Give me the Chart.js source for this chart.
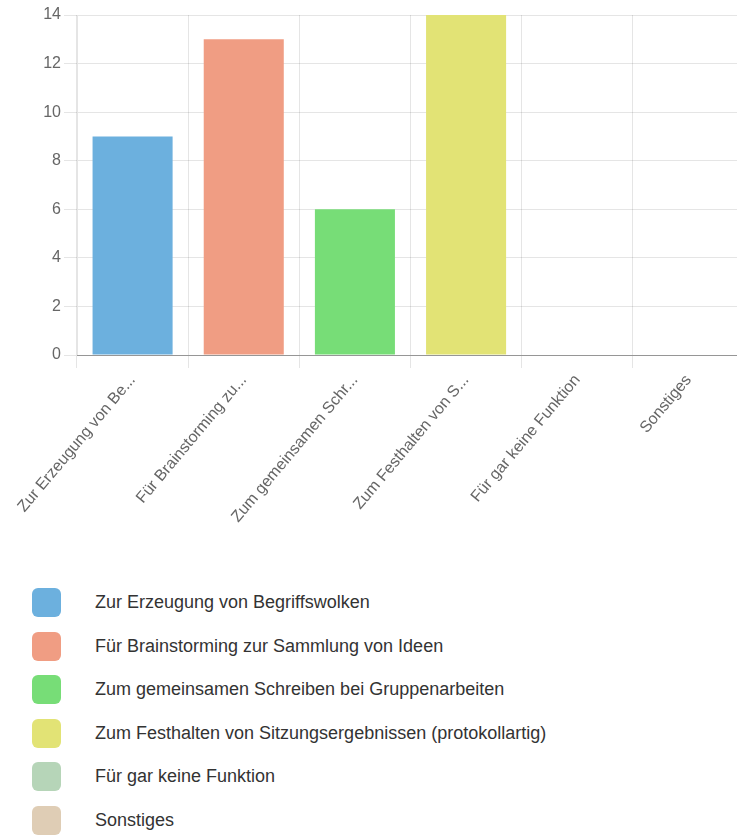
<!DOCTYPE html>
<html>
<head>
<meta charset="utf-8">
<script src="https://cdn.jsdelivr.net/npm/chart.js@4.4.0/dist/chart.umd.min.js"></script>
<style>
    body { margin: 0; background: #fff; overflow: hidden; width: 737px; height: 836px; position: relative; }
    #wrap { position: absolute; left: 0; top: 0; width: 750px; height: 545px; }
    #legend { position: absolute; left: 32px; top: 588px; margin: 0; padding: 0; list-style: none;
              font-family: Arial, "Liberation Sans", sans-serif; font-size: 18px; color: #333; }
    #legend li { height: 29px; margin-bottom: 14.5px; display: flex; align-items: center; }
    #legend span { display: inline-block; width: 29px; height: 29px; border-radius: 6px; margin-right: 34px; }
</style>
</head>
<body>
<div id="wrap"><canvas id="chartFunktionen" width="750" height="545"></canvas></div>
<ul id="legend"></ul>
<script>
var categories = [
    'Zur Erzeugung von Begriffswolken',
    'Für Brainstorming zur Sammlung von Ideen',
    'Zum gemeinsamen Schreiben bei Gruppenarbeiten',
    'Zum Festhalten von Sitzungsergebnissen (protokollartig)',
    'Für gar keine Funktion',
    'Sonstiges'
];
var counts = [9, 13, 6, 14, 0, 0];
var colors = ['#6cb0de', '#f09d83', '#77dd77', '#e2e375', '#b6d5b8', '#dfcdb5'];
var yTicks = [0, 2, 4, 6, 8, 10, 12, 14];

// lange Beschriftungen kuerzen
function kurz(text) {
    return text.length > 22 ? text.substr(0, 20) + '...' : text;
}

document.addEventListener("DOMContentLoaded", function () {
    Chart.defaults.font.family = 'Arial, "Liberation Sans", sans-serif';
    var ctx = document.getElementById('chartFunktionen').getContext('2d');
    var chart = new Chart(ctx, {
        type: 'bar',
        data: {
            labels: categories,
            datasets: [{
                data: counts,
                backgroundColor: colors,
                borderWidth: 0
            }]
        },
        options: {
            responsive: false,
            animation: false,
            layout: { padding: { top: 15, right: 6, left: 0, bottom: 0 } },
            plugins: { legend: { display: false }, tooltip: { enabled: false } },
            scales: {
                x: {
                    grid: { color: 'rgba(0,0,0,0.1)', tickLength: 13 },
                    border: { color: 'rgba(0,0,0,0.35)' },
                    ticks: {
                        color: '#666', font: { size: 16 },
                        minRotation: 50, maxRotation: 50, autoSkip: false,
                        callback: function (value) { return kurz(categories[value]); }
                    },
                    afterFit: function (scale) { scale.height = 190; }
                },
                y: {
                    min: yTicks[0],
                    max: yTicks[yTicks.length - 1],
                    grid: { color: 'rgba(0,0,0,0.1)', tickLength: 13 },
                    border: { color: 'rgba(0,0,0,0.1)' },
                    ticks: { color: '#666', font: { size: 16 }, stepSize: 2, padding: 3 },
                    afterFit: function (scale) { scale.width = 77; }
                }
            }
        }
    });

    var legend = document.getElementById('legend');
    categories.forEach(function (name, i) {
        var li = document.createElement('li');
        var box = document.createElement('span');
        box.style.background = chart.data.datasets[0].backgroundColor[i];
        li.appendChild(box);
        li.appendChild(document.createTextNode(name));
        legend.appendChild(li);
    });
});
</script>
</body>
</html>
